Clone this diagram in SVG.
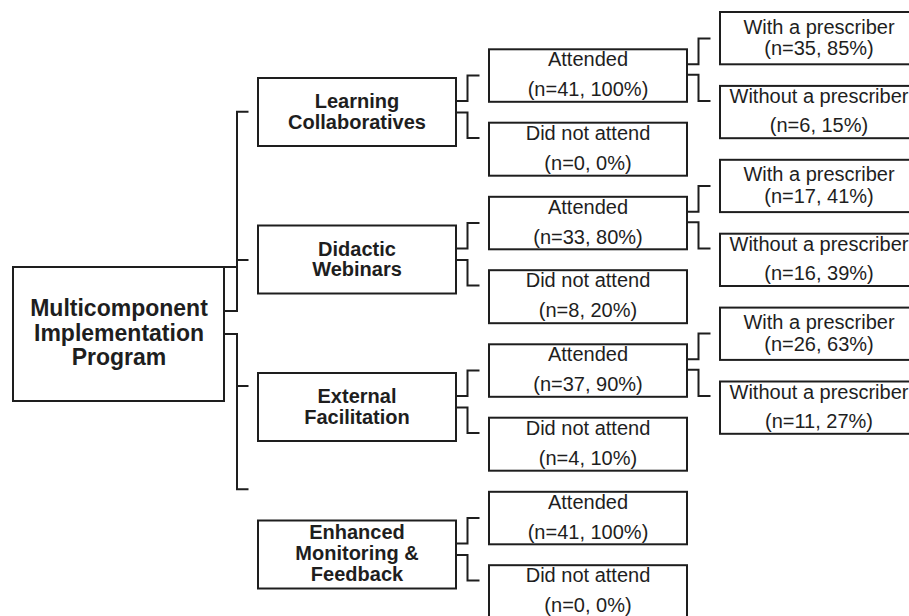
<svg xmlns="http://www.w3.org/2000/svg" width="909" height="616" viewBox="0 0 909 616">
<style>
rect{fill:#fff;stroke:#1e1e1e;stroke-width:2}
.c path{fill:none;stroke:#1e1e1e;stroke-width:2}
text{font-family:"Liberation Sans",Arial,sans-serif;fill:#1e1e1e;text-anchor:middle}
.b{font-weight:bold;font-size:20px}
.m{font-weight:bold;font-size:23px}
.r{font-size:20px}
</style>
<rect width="909" height="616" style="fill:#fff;stroke:none"/>
<g class="c" id="connectors">
<path d="M224,267 H237 M224,311 H237 V111.7 H248.5 M237,260 H248.5"/>
<path d="M224,334 H237 V489.3 H248.5 M237,386 H248.5"/>
<path d="M456,101 H467.5 V75.5 H479.5 M456,112.5 H467.5 V138 H479.5"/>
<path d="M456,248.5 H467.5 V223 H479.5 M456,260 H467.5 V285.5 H479.5"/>
<path d="M456,396 H467.5 V370.5 H479.5 M456,407.5 H467.5 V433 H479.5"/>
<path d="M456,543.5 H467.5 V518 H479.5 M456,555 H467.5 V580.5 H479.5"/>
<path d="M687,64.3 H698.5 V38.6 H710.5 M687,74.8 H698.5 V100.9 H710.5"/>
<path d="M687,211.8 H698.5 V186.1 H710.5 M687,222.3 H698.5 V248.4 H710.5"/>
<path d="M687,359.3 H698.5 V333.6 H710.5 M687,369.8 H698.5 V395.9 H710.5"/>
</g>
<g id="main">
<rect x="13" y="267" width="211" height="134"/>
<text class="m" x="119" y="316">Multicomponent</text>
<text class="m" x="119" y="340.7">Implementation</text>
<text class="m" x="119" y="365">Program</text>
</g>
<g id="learning">
<rect x="258" y="78" width="198" height="68"/>
<text class="b" x="357" y="108">Learning</text>
<text class="b" x="357" y="128.7">Collaboratives</text>
</g>
<g id="didactic">
<rect x="258" y="225.5" width="198" height="68"/>
<text class="b" x="357" y="255.5">Didactic</text>
<text class="b" x="357" y="276.2">Webinars</text>
</g>
<g id="external">
<rect x="258" y="373" width="198" height="68"/>
<text class="b" x="357" y="403">External</text>
<text class="b" x="357" y="423.7">Facilitation</text>
</g>
<g id="enhanced">
<rect x="258" y="520.5" width="198" height="68"/>
<text class="b" x="357" y="538.8">Enhanced</text>
<text class="b" x="357" y="559.8">Monitoring &amp;</text>
<text class="b" x="357" y="580.8">Feedback</text>
</g>
<g id="lc-attended">
<rect x="489" y="49.3" width="198" height="52.5"/>
<text class="r" x="588" y="66.3">Attended</text>
<text class="r" x="588" y="96.3">(n=41, 100%)</text>
</g>
<g id="lc-notattend">
<rect x="489" y="122.7" width="198" height="53"/>
<text class="r" x="588" y="139.7">Did not attend</text>
<text class="r" x="588" y="169.7">(n=0, 0%)</text>
</g>
<g id="dw-attended">
<rect x="489" y="196.8" width="198" height="52.5"/>
<text class="r" x="588" y="213.8">Attended</text>
<text class="r" x="588" y="243.8">(n=33, 80%)</text>
</g>
<g id="dw-notattend">
<rect x="489" y="270.2" width="198" height="53"/>
<text class="r" x="588" y="287.2">Did not attend</text>
<text class="r" x="588" y="317.2">(n=8, 20%)</text>
</g>
<g id="ef-attended">
<rect x="489" y="344.3" width="198" height="52.5"/>
<text class="r" x="588" y="361.3">Attended</text>
<text class="r" x="588" y="391.3">(n=37, 90%)</text>
</g>
<g id="ef-notattend">
<rect x="489" y="417.7" width="198" height="53"/>
<text class="r" x="588" y="434.7">Did not attend</text>
<text class="r" x="588" y="464.7">(n=4, 10%)</text>
</g>
<g id="em-attended">
<rect x="489" y="491.8" width="198" height="52.5"/>
<text class="r" x="588" y="508.8">Attended</text>
<text class="r" x="588" y="538.8">(n=41, 100%)</text>
</g>
<g id="em-notattend">
<rect x="489" y="565.2" width="198" height="53"/>
<text class="r" x="588" y="582.2">Did not attend</text>
<text class="r" x="588" y="612.2">(n=0, 0%)</text>
</g>
<g id="lc-with">
<rect x="720" y="12" width="200" height="52.3"/>
<text class="r" x="819" y="33.5">With a prescriber</text>
<text class="r" x="819" y="55">(n=35, 85%)</text>
</g>
<g id="lc-without">
<rect x="720" y="85.9" width="200" height="52.3"/>
<text class="r" x="819" y="103.4">Without a prescriber</text>
<text class="r" x="819" y="132.4">(n=6, 15%)</text>
</g>
<g id="dw-with">
<rect x="720" y="159.8" width="200" height="52.3"/>
<text class="r" x="819" y="181.3">With a prescriber</text>
<text class="r" x="819" y="202.8">(n=17, 41%)</text>
</g>
<g id="dw-without">
<rect x="720" y="233.7" width="200" height="52.3"/>
<text class="r" x="819" y="251.2">Without a prescriber</text>
<text class="r" x="819" y="280.2">(n=16, 39%)</text>
</g>
<g id="ef-with">
<rect x="720" y="307.6" width="200" height="52.3"/>
<text class="r" x="819" y="329.1">With a prescriber</text>
<text class="r" x="819" y="350.6">(n=26, 63%)</text>
</g>
<g id="ef-without">
<rect x="720" y="381.5" width="200" height="52.3"/>
<text class="r" x="819" y="399">Without a prescriber</text>
<text class="r" x="819" y="428">(n=11, 27%)</text>
</g>
</svg>
